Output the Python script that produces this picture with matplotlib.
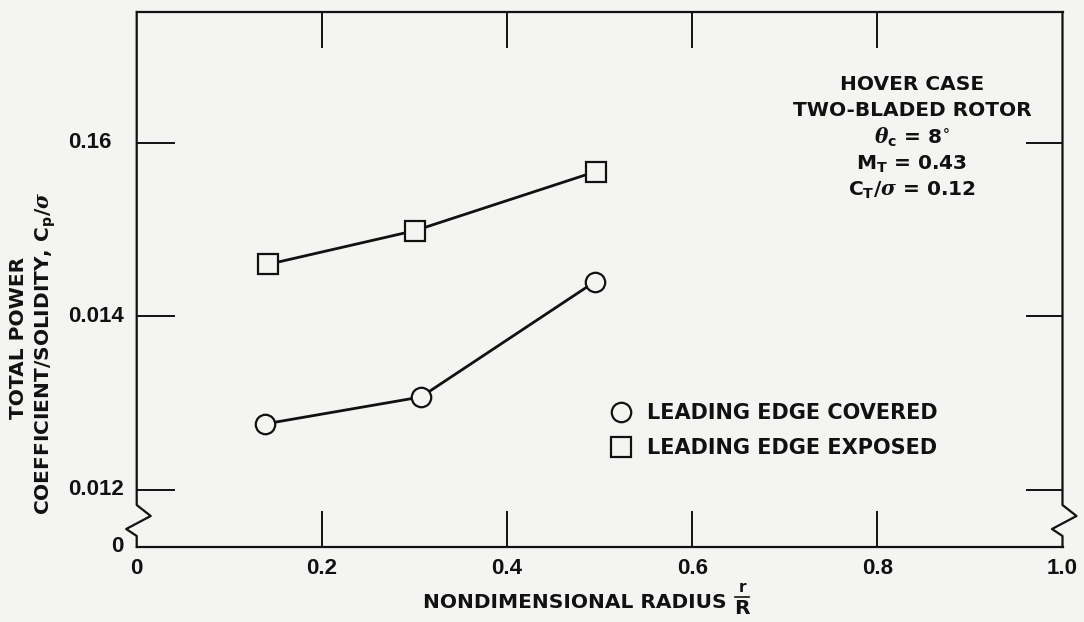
import matplotlib.pyplot as plt
from matplotlib import transforms
from matplotlib.lines import Line2D

# measured power coefficient / solidity vs. nondimensional radius
radius_covered = [0.139, 0.307, 0.495]
cp_covered = [0.01276, 0.01307, 0.01440]
radius_exposed = [0.142, 0.301, 0.496]
cp_exposed = [0.01460, 0.01499, 0.01567]

x_ticks = [0.2, 0.4, 0.6, 0.8]
x_labels = ['0', '0.2', '0.4', '0.6', '0.8', '1.0']
y_ticks = [0.012, 0.014, 0.016]
y_labels = ['0.012', '0.014', '0.16']

# broken axis: the bottom edge stands for zero
y_bottom = 0.01134
y_top = 0.01751

ink = '#111111'
paper = '#f4f4f2'

plt.rcParams['font.family'] = ['DejaVu Sans']
plt.rcParams['font.weight'] = 'bold'
plt.rcParams['mathtext.fontset'] = 'custom'
plt.rcParams['mathtext.rm'] = 'DejaVu Sans:bold'
plt.rcParams['mathtext.bf'] = 'DejaVu Sans:bold'
plt.rcParams['mathtext.it'] = 'DejaVu Serif:italic'

fig = plt.figure(figsize=(10.84, 6.22), dpi=100, facecolor=paper)
W, H = 1084, 622
ax = fig.add_axes([136.7 / W, 1 - 547 / H, (1062.5 - 136.7) / W, (547 - 12) / H])
ax.set_facecolor(paper)
ax.set_xlim(0, 1.0)
ax.set_ylim(y_bottom, y_top)

ax.plot(radius_exposed, cp_exposed, color=ink, lw=2.0, marker='s', ms=14,
        mfc=paper, mec=ink, mew=1.6, zorder=3)
ax.plot(radius_covered, cp_covered, color=ink, lw=2.0, marker='o', ms=14,
        mfc=paper, mec=ink, mew=1.6, zorder=3)

# ticks drawn inward on all four sides
ax.set_xticks(x_ticks)
ax.set_xticklabels([])
ax.set_yticks(y_ticks)
ax.set_yticklabels([])
ax.tick_params(axis='x', direction='in', length=26, width=1.4, color=ink,
               top=True, bottom=True)
ax.tick_params(axis='y', direction='in', length=27, width=1.4, color=ink,
               left=True, right=True)

# tick labels placed by hand (y labels are left aligned)
tick_font = dict(fontsize=16, fontweight='bold', color=ink,
                 family='Liberation Sans')
for i, lab in enumerate(x_labels):
    ax.text(i * 0.2, -0.02, lab, transform=ax.transAxes, ha='center',
            va='top', **tick_font)
ylab_trans = transforms.blended_transform_factory(fig.transFigure, ax.transData)
for v, lab in zip(y_ticks, y_labels):
    ax.text(68 / W, v, lab, transform=ylab_trans, ha='left', va='center',
            **tick_font)
ax.text(-0.014, 0.0, '0', transform=ax.transAxes, ha='right', va='center',
        **tick_font)

# spines with zigzag break marks on the sides
for s in ['left', 'right']:
    ax.spines[s].set_visible(False)
for s in ['top', 'bottom']:
    ax.spines[s].set_linewidth(1.6)
    ax.spines[s].set_color(ink)

def broken_side(x0, sign):
    dx = 14.0 / 925.8
    ys = [1.0, 1 - (505 - 12) / 535, 1 - (516 - 12) / 535,
          1 - (529 - 12) / 535, 1 - (536 - 12) / 535, 0.0]
    xs = [x0, x0, x0 + sign * dx, x0 - sign * 0.75 * dx, x0, x0]
    ax.add_line(Line2D(xs, ys, transform=ax.transAxes, color=ink, lw=1.6,
                       clip_on=False))

broken_side(0.0, 1)
broken_side(1.0, 1)

# axis titles
label_font = dict(fontsize=14.5, fontweight='bold', color=ink)
fig.text(19 / W, 1 - 338 / H, 'TOTAL POWER', rotation=90, ha='center',
         va='center', **label_font)
fig.text(46 / W, 1 - 353 / H,
         r'COEFFICIENT/SOLIDITY, C$_\mathbf{p}$/$\sigma$',
         rotation=90, ha='center', va='center', **label_font)

fig.text(727 / W, 1 - 602 / H, 'NONDIMENSIONAL RADIUS', ha='right',
         va='center', **label_font)
fig.text(742 / W, 1 - 587 / H, 'r', ha='center', va='center',
         fontsize=11, fontweight='bold', color=ink)
fig.text(742 / W, 1 - 609 / H, 'R', ha='center', va='center', **label_font)
fig.add_artist(Line2D([735 / W, 749 / W], [1 - 597 / H, 1 - 597 / H],
                      color=ink, lw=1.2, transform=fig.transFigure))

# test conditions
cond = [
    'HOVER CASE',
    'TWO-BLADED ROTOR',
    r'$\theta_\mathbf{c}$ = 8$^{\circ}$',
    r'M$_\mathbf{T}$ = 0.43',
    r'C$_\mathbf{T}$/$\sigma$ = 0.12',
]
cond_y = [84, 111, 137, 164, 190]
for txt, yy in zip(cond, cond_y):
    fig.text(912 / W, 1 - yy / H, txt, ha='center', va='center',
             **label_font)

handles = [
    Line2D([], [], ls='none', marker='o', ms=14, mfc=paper, mec=ink, mew=1.6),
    Line2D([], [], ls='none', marker='s', ms=14, mfc=paper, mec=ink, mew=1.6),
]
leg = ax.legend(handles, ['LEADING EDGE COVERED', 'LEADING EDGE EXPOSED'],
                loc='upper left', bbox_to_anchor=(600 / W, 1 - 393 / H),
                bbox_transform=fig.transFigure, frameon=False,
                handlelength=1.0, handletextpad=0.75, labelspacing=0.7,
                borderpad=0, prop=dict(size=15, weight='bold'))
for t in leg.get_texts():
    t.set_color(ink)

fig.savefig('out.png', dpi=100, facecolor=paper)
